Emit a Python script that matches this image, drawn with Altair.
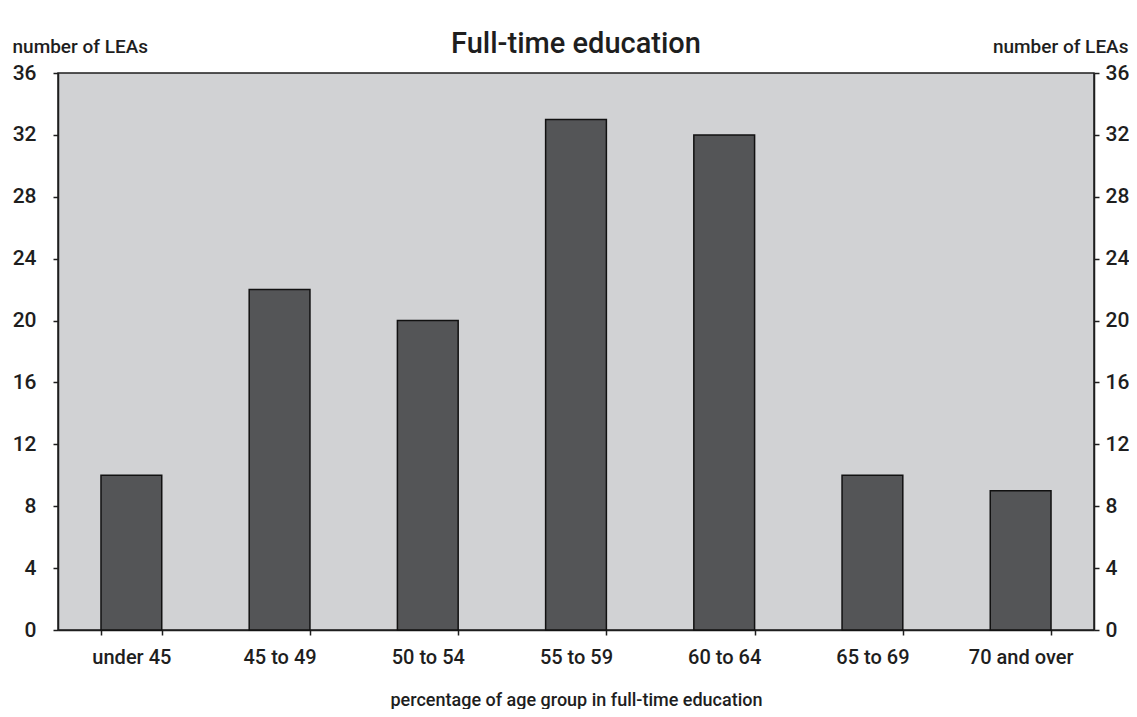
import altair as alt
import pandas as pd

categories = ["under 45", "45 to 49", "50 to 54", "55 to 59", "60 to 64", "65 to 69", "70 and over"]
counts = [10, 22, 20, 33, 32, 10, 9]
y_ticks = [0, 4, 8, 12, 16, 20, 24, 28, 32, 36]

df = pd.DataFrame({"band": categories, "leas": counts})

FONT = "Roboto"
INK = "#1e1e1e"

x_enc = alt.X(
    "band:N",
    sort=categories,
    scale=alt.Scale(paddingInner=0.59, paddingOuter=0.29),
    axis=alt.Axis(
        title="percentage of age group in full-time education",
        labelAngle=0,
        tickBand="extent",
        tickSize=5,
        tickColor=INK,
        tickWidth=1.5,
        domainColor=INK,
        domainWidth=1.5,
        labelFontSize=20,
        labelPadding=12,
        titleFontSize=18,
        titlePadding=24,
        titleFontWeight=500,
    ),
)

def y_axis(orient, tx, align, pad):
    return alt.Axis(
        orient=orient,
        values=y_ticks,
        title="number of LEAs",
        titleAngle=0,
        titleX=tx,
        titleY=-21,
        titleAlign=align,
        titleBaseline="alphabetic",
        titleFontSize=19,
        titleFontWeight=500,
        labelFontSize=21,
        labelPadding=pad,
        tickSize=5,
        tickColor=INK,
        tickWidth=1.5,
        domainColor=INK,
        domainWidth=1.5,
        grid=False,
    )

bars = alt.Chart(df).mark_bar(
    color="#545557", stroke="#111111", strokeWidth=1.5
).encode(
    x=x_enc,
    y=alt.Y("leas:Q", scale=alt.Scale(domain=[0, 36], nice=False),
            axis=y_axis("left", -46, "left", 17)),
)

right = alt.Chart(df).mark_bar(opacity=0).encode(
    x=alt.X("band:N", sort=categories),
    y=alt.Y("leas:Q", scale=alt.Scale(domain=[0, 36], nice=False),
            axis=y_axis("right", 34, "right", 6)),
)

chart = alt.layer(bars, right).resolve_scale(y="independent").properties(
    width=1036,
    height=557,
    title=alt.TitleParams("Full-time education", fontSize=29, fontWeight=500,
                          anchor="middle", offset=0, dy=45, baseline="alphabetic",
                          font=FONT, color=INK),
    autosize=alt.AutoSizeParams(type="none"),
    padding={"left": 50, "top": 65, "right": 35, "bottom": 79},
).configure_view(
    fill="#d1d2d4", stroke=INK, strokeWidth=1.5
).configure_axis(
    labelFont=FONT, titleFont=FONT, labelColor=INK, titleColor=INK,
    labelFontWeight=500
)

chart.save("out.html", embed_options={"renderer": "svg", "actions": False})
